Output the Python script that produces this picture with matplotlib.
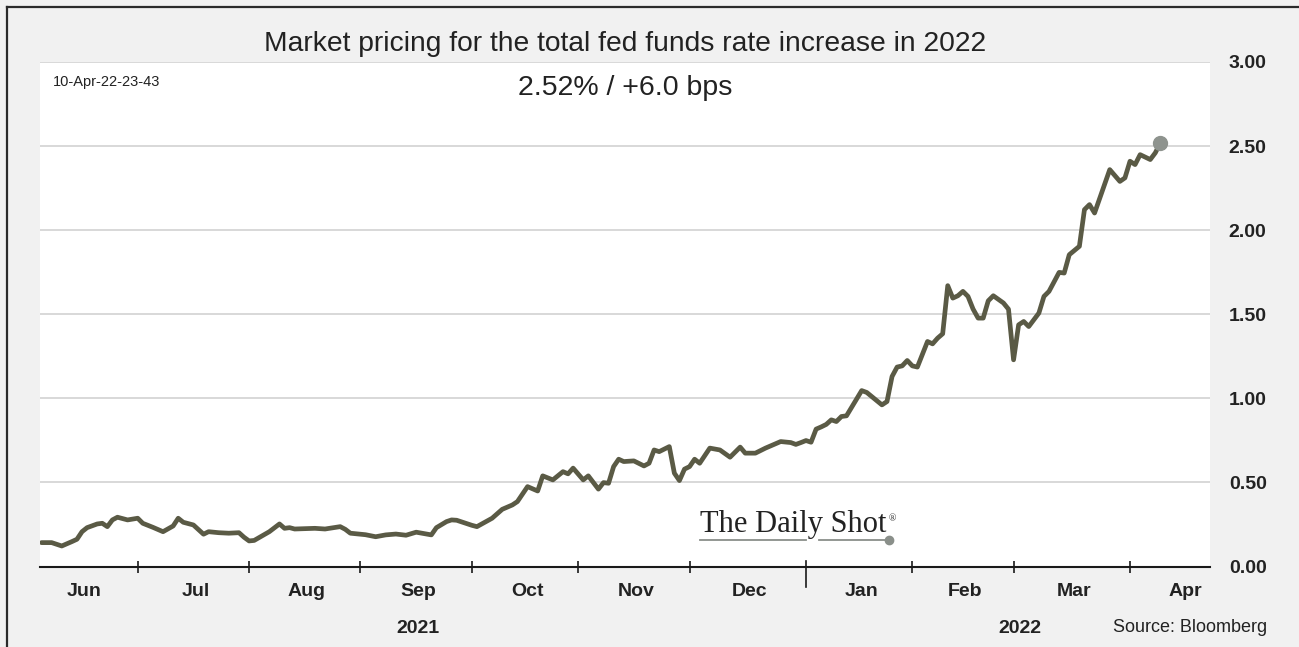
import numpy as np
import matplotlib
matplotlib.use("Agg")
import matplotlib.pyplot as plt
import matplotlib.transforms as mtransforms
from matplotlib.lines import Line2D

plt.rcParams["font.family"] = ["Liberation Sans", "DejaVu Sans"]

# Market-implied total 2022 fed funds increase (percentage points)
dates = [
    "2021-06-04", "2021-06-08", "2021-06-10", "2021-06-14", "2021-06-15", "2021-06-16",
    "2021-06-17", "2021-06-21", "2021-06-22", "2021-06-23", "2021-06-24", "2021-06-25",
    "2021-06-29", "2021-07-01", "2021-07-02", "2021-07-06", "2021-07-08", "2021-07-12",
    "2021-07-13", "2021-07-14", "2021-07-16", "2021-07-20", "2021-07-21", "2021-07-23",
    "2021-07-27", "2021-07-29", "2021-07-30", "2021-08-02", "2021-08-03", "2021-08-06",
    "2021-08-10", "2021-08-11", "2021-08-12", "2021-08-13", "2021-08-19", "2021-08-23",
    "2021-08-26", "2021-08-27", "2021-08-30", "2021-09-02", "2021-09-06", "2021-09-08",
    "2021-09-10", "2021-09-14", "2021-09-16", "2021-09-20", "2021-09-21", "2021-09-22",
    "2021-09-24", "2021-09-27", "2021-09-28", "2021-09-30", "2021-10-01", "2021-10-04",
    "2021-10-07", "2021-10-11", "2021-10-13", "2021-10-14", "2021-10-18", "2021-10-20",
    "2021-10-21", "2021-10-25", "2021-10-27", "2021-10-28", "2021-10-29", "2021-11-02",
    "2021-11-03", "2021-11-05", "2021-11-08", "2021-11-09", "2021-11-10", "2021-11-11",
    "2021-11-12", "2021-11-16", "2021-11-18", "2021-11-19", "2021-11-22", "2021-11-23",
    "2021-11-25", "2021-11-26", "2021-11-29", "2021-11-30", "2021-12-01", "2021-12-02",
    "2021-12-03", "2021-12-07", "2021-12-09", "2021-12-13", "2021-12-15", "2021-12-16",
    "2021-12-20", "2021-12-22", "2021-12-27", "2021-12-29", "2021-12-30", "2021-12-31",
    "2022-01-03", "2022-01-04", "2022-01-05", "2022-01-06", "2022-01-07", "2022-01-10",
    "2022-01-11", "2022-01-12", "2022-01-13", "2022-01-18", "2022-01-19", "2022-01-24",
    "2022-01-25", "2022-01-26", "2022-01-27", "2022-01-28", "2022-01-31", "2022-02-01",
    "2022-02-02", "2022-02-04", "2022-02-07", "2022-02-08", "2022-02-09", "2022-02-10",
    "2022-02-11", "2022-02-14", "2022-02-15", "2022-02-16", "2022-02-17", "2022-02-18",
    "2022-02-21", "2022-02-22", "2022-02-23", "2022-02-25", "2022-02-28", "2022-03-01",
    "2022-03-02", "2022-03-03", "2022-03-04", "2022-03-08", "2022-03-09", "2022-03-10",
    "2022-03-14", "2022-03-15", "2022-03-16", "2022-03-18", "2022-03-21", "2022-03-22",
    "2022-03-23", "2022-03-28", "2022-03-30", "2022-03-31", "2022-04-01", "2022-04-04",
    "2022-04-05", "2022-04-07", "2022-04-08", "2022-04-11",
]
values = [
    0.142, 0.142, 0.122, 0.148, 0.162, 0.207,
    0.231, 0.253, 0.257, 0.237, 0.277, 0.293,
    0.277, 0.287, 0.257, 0.233, 0.207, 0.241,
    0.287, 0.263, 0.247, 0.192, 0.207, 0.201,
    0.198, 0.201, 0.174, 0.152, 0.155, 0.207,
    0.253, 0.227, 0.231, 0.223, 0.227, 0.223,
    0.237, 0.221, 0.198, 0.189, 0.177, 0.188,
    0.193, 0.186, 0.204, 0.193, 0.188, 0.231,
    0.267, 0.277, 0.275, 0.255, 0.245, 0.237,
    0.287, 0.340, 0.366, 0.386, 0.475, 0.449,
    0.539, 0.515, 0.564, 0.551, 0.585, 0.515,
    0.539, 0.460, 0.499, 0.495, 0.594, 0.638,
    0.624, 0.628, 0.598, 0.614, 0.693, 0.683,
    0.713, 0.555, 0.511, 0.579, 0.594, 0.638,
    0.614, 0.704, 0.693, 0.650, 0.710, 0.674,
    0.674, 0.704, 0.743, 0.737, 0.726, 0.737,
    0.749, 0.739, 0.817, 0.830, 0.845, 0.872,
    0.862, 0.892, 0.896, 1.046, 1.035, 0.961,
    0.981, 1.130, 1.186, 1.193, 1.225, 1.193,
    1.186, 1.338, 1.324, 1.358, 1.384, 1.670,
    1.596, 1.610, 1.636, 1.606, 1.531, 1.477,
    1.477, 1.580, 1.610, 1.567, 1.530, 1.229,
    1.437, 1.457, 1.427, 1.507, 1.606, 1.636,
    1.749, 1.745, 1.854, 1.904, 2.122, 2.152,
    2.102, 2.360, 2.290, 2.311, 2.410, 2.390,
    2.449, 2.420, 2.460, 2.520,
]

month_starts = ["2021-06-01", "2021-07-01", "2021-08-01", "2021-09-01", "2021-10-01",
                "2021-11-01", "2021-12-01", "2022-01-01", "2022-02-01", "2022-03-01",
                "2022-04-01", "2022-05-01"]
month_labels = ["Jun", "Jul", "Aug", "Sep", "Oct", "Nov", "Dec",
                "Jan", "Feb", "Mar", "Apr"]
year_labels = ["2021", "2022"]
y_ticks = [0.0, 0.5, 1.0, 1.5, 2.0, 2.5, 3.0]

title = "Market pricing for the total fed funds rate increase in 2022"
stamp = "10-Apr-22-23-43"
source = "Source: Bloomberg"

# business-day axis (weekdays only)
origin = np.datetime64("2021-07-01")
xd = np.busday_count(origin, np.array(dates, dtype="datetime64[D]"))
xm = np.busday_count(origin, np.array(month_starts, dtype="datetime64[D]"))

W, H = 1299, 647
fig = plt.figure(figsize=(W / 100, H / 100), dpi=100, facecolor="#f1f1f1")
ax = fig.add_axes([40 / W, 1 - 566.5 / H, 1170 / W, 504.5 / H])
ax.set_facecolor("white")

line_color = "#5a5a45"
ax.plot(xd, values, color=line_color, lw=3.4, solid_joinstyle="round",
        solid_capstyle="round", zorder=3)
ax.plot(xd[-1], values[-1], "o", color="#8e938e", ms=10, zorder=4)

ax.set_xlim(xd[0] - 0.3, xd[-1] + 9.8)
ax.set_ylim(0, 3.0)

# horizontal grid
ax.set_yticks(y_ticks)
ax.set_yticklabels([f"{v:.2f}" for v in y_ticks], fontweight="bold")
ax.yaxis.tick_right()
ax.tick_params(axis="y", length=0, pad=13.5, labelsize=14, labelcolor="#222222")
ax.grid(axis="y", color="#d2d2d2", lw=1.2, zorder=0)
ax.set_axisbelow(True)

for s in ("left", "right", "top"):
    ax.spines[s].set_visible(False)
ax.spines["bottom"].set_color("#1a1a1a")
ax.spines["bottom"].set_linewidth(1.5)

# month boundary ticks (year boundary drawn longer)
jan_idx = month_labels.index("Jan")
boundary = [xm[i] for i in range(1, len(xm) - 1) if i != jan_idx]
ax.set_xticks(boundary)
ax.set_xticklabels([])
ax.tick_params(axis="x", direction="inout", length=9, width=1.2, color="#1a1a1a")

trans = mtransforms.blended_transform_factory(ax.transData, ax.transAxes)
ax.plot([xm[jan_idx]] * 2, [6 / 504.5, -20 / 504.5], transform=trans,
        color="#1a1a1a", lw=1.2, clip_on=False)

for i, lab in enumerate(month_labels):
    ax.text((xm[i] + xm[i + 1]) / 2 + 0.4, -25 / 504.5, lab, transform=trans,
            ha="center", va="center", fontsize=14, fontweight="bold", color="#222222")

ax.text((418 - 40) / 1170, -62 / 504.5, year_labels[0], transform=ax.transAxes,
        ha="center", va="center", fontsize=14, fontweight="bold", color="#222222")
ax.text((1020 - 40) / 1170, -62 / 504.5, year_labels[1], transform=ax.transAxes,
        ha="center", va="center", fontsize=14, fontweight="bold", color="#222222")

# titles and notes
fig.text(625 / W, 1 - 44 / H, title, ha="center", va="center", fontsize=20.3, color="#222222")
fig.text(625 / W, 1 - 88 / H, f"{values[-1]:.2f}% / +{(values[-1] - values[-2]) * 100:.1f} bps",
         ha="center", va="center", fontsize=20.5, color="#222222")
fig.text(53 / W, 1 - 82 / H, stamp, ha="left", va="center", fontsize=10.5, color="#222222")
fig.text(1267 / W, 1 - 627 / H, source, ha="right", va="center", fontsize=13, color="#222222")

# logo
fig.text(700 / W, 1 - 532 / H, "The Daily Shot", ha="left", va="baseline",
         fontsize=22, family="Liberation Serif", color="#222222")
fig.text(889 / W, 1 - 519 / H, "®", ha="left", va="center", fontsize=7,
         family="Liberation Serif", color="#222222")
for x0, x1 in ((700, 806), (819, 889)):
    fig.add_artist(Line2D([x0 / W, x1 / W], [1 - 539.5 / H] * 2, color="#8a8f8a", lw=1.3))
fig.add_artist(Line2D([889.5 / W], [1 - 539.5 / H], marker="o", ms=6,
                      color="#8a8f8a", lw=0))

# frame
fig.add_artist(Line2D([7 / W, 1], [1 - 7 / H] * 2, color="#2a2a2a", lw=1.6))
fig.add_artist(Line2D([7 / W] * 2, [0, 1 - 7 / H], color="#2a2a2a", lw=1.6))

fig.savefig("out.png", dpi=100, facecolor=fig.get_facecolor())
